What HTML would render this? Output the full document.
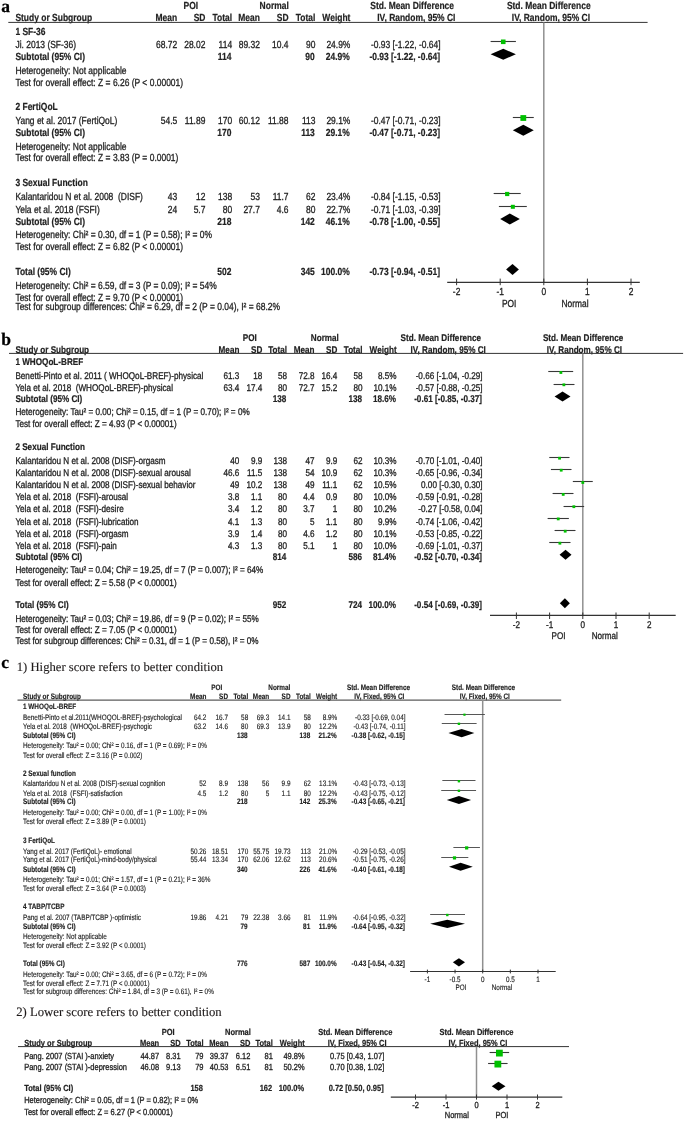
<!DOCTYPE html>
<html><head><meta charset="utf-8"><title>Forest plots</title>
<style>
html,body{margin:0;padding:0;background:#fff;width:685px;height:1121px;overflow:hidden}
svg{display:block;will-change:transform}
text{font-family:"Liberation Sans",sans-serif;fill:#222;white-space:pre;stroke:#222;stroke-width:0.3px}
text[font-weight]{stroke-width:0.2px}
svg{text-rendering:geometricPrecision}
</style></head><body>
<svg width="685" height="1121" viewBox="0 0 685 1121">
<rect width="685" height="1121" fill="#fff"/>
<text x="1.20" y="11.80" font-size="17.5" font-weight="bold" style='font-family:"Liberation Serif", serif;fill:#000;stroke:#000;stroke-width:0.25px;'>a</text>
<text x="1.20" y="344.80" font-size="17.5" font-weight="bold" style='font-family:"Liberation Serif", serif;fill:#000;stroke:#000;stroke-width:0.25px;'>b</text>
<text x="1.20" y="667.60" font-size="17.5" font-weight="bold" style='font-family:"Liberation Serif", serif;fill:#000;stroke:#000;stroke-width:0.25px;'>c</text>
<text x="16.80" y="671.20" font-size="12.65" style='font-family:"Liberation Serif", serif;fill:#1e1a1a;stroke:#1e1a1a;stroke-width:0.12px;'>1) Higher score refers to better condition</text>
<text x="16.20" y="1016.30" font-size="12.72" style='font-family:"Liberation Serif", serif;fill:#1e1a1a;stroke:#1e1a1a;stroke-width:0.12px;'>2) Lower score refers to better condition</text>
<text transform="translate(183.60,9.20) scale(0.8197,1)" font-size="10.333" font-weight="bold">POI</text>
<text transform="translate(259.60,9.20) scale(0.8197,1)" font-size="10.333" font-weight="bold">Normal</text>
<text transform="translate(370.30,9.20) scale(0.8197,1)" font-size="10.333" font-weight="bold">Std. Mean Difference</text>
<text transform="translate(506.90,9.20) scale(0.8197,1)" font-size="10.333" font-weight="bold">Std. Mean Difference</text>
<text transform="translate(15.40,21.40) scale(0.8197,1)" font-size="10.333" font-weight="bold">Study or Subgroup</text>
<text transform="translate(177.20,21.40) scale(0.8197,1)" font-size="10.333" font-weight="bold" text-anchor="end">Mean</text>
<text transform="translate(205.40,21.40) scale(0.8197,1)" font-size="10.333" font-weight="bold" text-anchor="end">SD</text>
<text transform="translate(232.10,21.40) scale(0.8197,1)" font-size="10.333" font-weight="bold" text-anchor="end">Total</text>
<text transform="translate(259.90,21.40) scale(0.8197,1)" font-size="10.333" font-weight="bold" text-anchor="end">Mean</text>
<text transform="translate(288.50,21.40) scale(0.8197,1)" font-size="10.333" font-weight="bold" text-anchor="end">SD</text>
<text transform="translate(315.40,21.40) scale(0.8197,1)" font-size="10.333" font-weight="bold" text-anchor="end">Total</text>
<text transform="translate(350.40,21.40) scale(0.8197,1)" font-size="10.333" font-weight="bold" text-anchor="end">Weight</text>
<text transform="translate(377.20,21.40) scale(0.8197,1)" font-size="10.333" font-weight="bold">IV, Random, 95% CI</text>
<text transform="translate(511.80,21.40) scale(0.8197,1)" font-size="10.333" font-weight="bold">IV, Random, 95% CI</text>
<line x1="8.30" y1="22.40" x2="647.60" y2="22.40" stroke="#333" stroke-width="1"/>
<line x1="543.80" y1="22.40" x2="543.80" y2="282.40" stroke="#909090" stroke-width="1.5"/>
<text transform="translate(15.40,34.50) scale(0.8197,1)" font-size="10.333" font-weight="bold">1 SF-36</text>
<text transform="translate(15.40,47.80) scale(0.8197,1)" font-size="10.333">Ji. 2013 (SF-36)</text>
<text transform="translate(177.20,47.80) scale(0.8197,1)" font-size="10.333" text-anchor="end">68.72</text>
<text transform="translate(205.40,47.80) scale(0.8197,1)" font-size="10.333" text-anchor="end">28.02</text>
<text transform="translate(232.10,47.80) scale(0.8197,1)" font-size="10.333" text-anchor="end">114</text>
<text transform="translate(259.90,47.80) scale(0.8197,1)" font-size="10.333" text-anchor="end">89.32</text>
<text transform="translate(288.50,47.80) scale(0.8197,1)" font-size="10.333" text-anchor="end">10.4</text>
<text transform="translate(315.40,47.80) scale(0.8197,1)" font-size="10.333" text-anchor="end">90</text>
<text transform="translate(350.40,47.80) scale(0.8197,1)" font-size="10.333" text-anchor="end">24.9%</text>
<text transform="translate(440.60,47.80) scale(0.8197,1)" font-size="10.333" text-anchor="end">-0.93 [-1.22, -0.64]</text>
<line x1="490.61" y1="41.50" x2="515.90" y2="41.50" stroke="#383838" stroke-width="1.1"/>
<rect x="500.95" y="39.50" width="4.60" height="4.60" fill="#00c000"/>
<text transform="translate(15.40,59.70) scale(0.8197,1)" font-size="10.333" font-weight="bold">Subtotal (95% CI)</text>
<text transform="translate(231.50,59.70) scale(0.8197,1)" font-size="10.333" font-weight="bold" text-anchor="end">114</text>
<text transform="translate(314.80,59.70) scale(0.8197,1)" font-size="10.333" font-weight="bold" text-anchor="end">90</text>
<text transform="translate(349.80,59.70) scale(0.8197,1)" font-size="10.333" font-weight="bold" text-anchor="end">24.9%</text>
<text transform="translate(440.00,59.70) scale(0.8197,1)" font-size="10.333" font-weight="bold" text-anchor="end">-0.93 [-1.22, -0.64]</text>
<polygon points="490.61,54.20 503.25,48.70 515.90,54.20 503.25,59.70" fill="#000"/>
<text transform="translate(15.40,74.10) scale(0.8197,1)" font-size="10.333">Heterogeneity: Not applicable</text>
<text transform="translate(15.40,85.90) scale(0.8197,1)" font-size="10.333">Test for overall effect: Z = 6.26 (P &lt; 0.00001)</text>
<text transform="translate(15.40,110.30) scale(0.8197,1)" font-size="10.333" font-weight="bold">2 FertiQoL</text>
<text transform="translate(15.40,124.00) scale(0.8197,1)" font-size="10.333">Yang et al. 2017 (FertiQoL)</text>
<text transform="translate(177.20,124.00) scale(0.8197,1)" font-size="10.333" text-anchor="end">54.5</text>
<text transform="translate(205.40,124.00) scale(0.8197,1)" font-size="10.333" text-anchor="end">11.89</text>
<text transform="translate(232.10,124.00) scale(0.8197,1)" font-size="10.333" text-anchor="end">170</text>
<text transform="translate(259.90,124.00) scale(0.8197,1)" font-size="10.333" text-anchor="end">60.12</text>
<text transform="translate(288.50,124.00) scale(0.8197,1)" font-size="10.333" text-anchor="end">11.88</text>
<text transform="translate(315.40,124.00) scale(0.8197,1)" font-size="10.333" text-anchor="end">113</text>
<text transform="translate(350.40,124.00) scale(0.8197,1)" font-size="10.333" text-anchor="end">29.1%</text>
<text transform="translate(440.60,124.00) scale(0.8197,1)" font-size="10.333" text-anchor="end">-0.47 [-0.71, -0.23]</text>
<line x1="512.84" y1="117.50" x2="533.77" y2="117.50" stroke="#383838" stroke-width="1.1"/>
<rect x="520.41" y="115.10" width="5.80" height="5.80" fill="#00c000"/>
<text transform="translate(15.40,135.90) scale(0.8197,1)" font-size="10.333" font-weight="bold">Subtotal (95% CI)</text>
<text transform="translate(231.50,135.90) scale(0.8197,1)" font-size="10.333" font-weight="bold" text-anchor="end">170</text>
<text transform="translate(314.80,135.90) scale(0.8197,1)" font-size="10.333" font-weight="bold" text-anchor="end">113</text>
<text transform="translate(349.80,135.90) scale(0.8197,1)" font-size="10.333" font-weight="bold" text-anchor="end">29.1%</text>
<text transform="translate(440.00,135.90) scale(0.8197,1)" font-size="10.333" font-weight="bold" text-anchor="end">-0.47 [-0.71, -0.23]</text>
<polygon points="512.84,130.30 523.31,124.80 533.77,130.30 523.31,135.80" fill="#000"/>
<text transform="translate(15.40,149.60) scale(0.8197,1)" font-size="10.333">Heterogeneity: Not applicable</text>
<text transform="translate(15.40,161.40) scale(0.8197,1)" font-size="10.333">Test for overall effect: Z = 3.83 (P = 0.0001)</text>
<text transform="translate(15.40,186.00) scale(0.8197,1)" font-size="10.333" font-weight="bold">3 Sexual Function</text>
<text transform="translate(15.40,200.00) scale(0.8197,1)" font-size="10.333">Kalantaridou N et al. 2008  (DISF)</text>
<text transform="translate(177.20,200.00) scale(0.8197,1)" font-size="10.333" text-anchor="end">43</text>
<text transform="translate(205.40,200.00) scale(0.8197,1)" font-size="10.333" text-anchor="end">12</text>
<text transform="translate(232.10,200.00) scale(0.8197,1)" font-size="10.333" text-anchor="end">138</text>
<text transform="translate(259.90,200.00) scale(0.8197,1)" font-size="10.333" text-anchor="end">53</text>
<text transform="translate(288.50,200.00) scale(0.8197,1)" font-size="10.333" text-anchor="end">11.7</text>
<text transform="translate(315.40,200.00) scale(0.8197,1)" font-size="10.333" text-anchor="end">62</text>
<text transform="translate(350.40,200.00) scale(0.8197,1)" font-size="10.333" text-anchor="end">23.4%</text>
<text transform="translate(440.60,200.00) scale(0.8197,1)" font-size="10.333" text-anchor="end">-0.84 [-1.15, -0.53]</text>
<line x1="493.66" y1="193.50" x2="520.69" y2="193.50" stroke="#383838" stroke-width="1.1"/>
<rect x="505.08" y="191.90" width="4.20" height="4.20" fill="#00c000"/>
<text transform="translate(15.40,212.60) scale(0.8197,1)" font-size="10.333">Yela et al. 2018 (FSFI)</text>
<text transform="translate(177.20,212.60) scale(0.8197,1)" font-size="10.333" text-anchor="end">24</text>
<text transform="translate(205.40,212.60) scale(0.8197,1)" font-size="10.333" text-anchor="end">5.7</text>
<text transform="translate(232.10,212.60) scale(0.8197,1)" font-size="10.333" text-anchor="end">80</text>
<text transform="translate(259.90,212.60) scale(0.8197,1)" font-size="10.333" text-anchor="end">27.7</text>
<text transform="translate(288.50,212.60) scale(0.8197,1)" font-size="10.333" text-anchor="end">4.6</text>
<text transform="translate(315.40,212.60) scale(0.8197,1)" font-size="10.333" text-anchor="end">80</text>
<text transform="translate(350.40,212.60) scale(0.8197,1)" font-size="10.333" text-anchor="end">22.7%</text>
<text transform="translate(440.60,212.60) scale(0.8197,1)" font-size="10.333" text-anchor="end">-0.71 [-1.03, -0.39]</text>
<line x1="498.89" y1="206.50" x2="526.80" y2="206.50" stroke="#383838" stroke-width="1.1"/>
<rect x="510.84" y="204.80" width="4.00" height="4.00" fill="#00c000"/>
<text transform="translate(15.40,224.50) scale(0.8197,1)" font-size="10.333" font-weight="bold">Subtotal (95% CI)</text>
<text transform="translate(231.50,224.50) scale(0.8197,1)" font-size="10.333" font-weight="bold" text-anchor="end">218</text>
<text transform="translate(314.80,224.50) scale(0.8197,1)" font-size="10.333" font-weight="bold" text-anchor="end">142</text>
<text transform="translate(349.80,224.50) scale(0.8197,1)" font-size="10.333" font-weight="bold" text-anchor="end">46.1%</text>
<text transform="translate(440.00,224.50) scale(0.8197,1)" font-size="10.333" font-weight="bold" text-anchor="end">-0.78 [-1.00, -0.55]</text>
<polygon points="500.20,219.00 509.79,213.50 519.82,219.00 509.79,224.50" fill="#000"/>
<text transform="translate(15.40,237.90) scale(0.8197,1)" font-size="10.333">Heterogeneity: Chi² = 0.30, df = 1 (P = 0.58); I² = 0%</text>
<text transform="translate(15.40,249.90) scale(0.8197,1)" font-size="10.333">Test for overall effect: Z = 6.82 (P &lt; 0.00001)</text>
<text transform="translate(15.40,275.30) scale(0.8197,1)" font-size="10.333" font-weight="bold">Total (95% CI)</text>
<text transform="translate(231.50,275.30) scale(0.8197,1)" font-size="10.333" font-weight="bold" text-anchor="end">502</text>
<text transform="translate(314.80,275.30) scale(0.8197,1)" font-size="10.333" font-weight="bold" text-anchor="end">345</text>
<text transform="translate(349.80,275.30) scale(0.8197,1)" font-size="10.333" font-weight="bold" text-anchor="end">100.0%</text>
<text transform="translate(440.00,275.30) scale(0.8197,1)" font-size="10.333" font-weight="bold" text-anchor="end">-0.73 [-0.94, -0.51]</text>
<polygon points="506.10,269.40 512.50,263.90 518.90,269.40 512.50,274.90" fill="#000"/>
<text transform="translate(15.40,289.30) scale(0.8197,1)" font-size="10.333">Heterogeneity: Chi² = 6.59, df = 3 (P = 0.09); I² = 54%</text>
<text transform="translate(15.40,300.60) scale(0.8197,1)" font-size="10.333">Test for overall effect: Z = 9.70 (P &lt; 0.00001)</text>
<text transform="translate(15.40,310.40) scale(0.8197,1)" font-size="10.333">Test for subgroup differences: Chi² = 6.29, df = 2 (P = 0.04), I² = 68.2%</text>
<line x1="447.20" y1="282.40" x2="639.80" y2="282.40" stroke="#333" stroke-width="1.1"/>
<line x1="456.60" y1="278.60" x2="456.60" y2="285.20" stroke="#333" stroke-width="1"/>
<text transform="translate(456.60,295.00) scale(0.8197,1)" font-size="10.248" text-anchor="middle">-2</text>
<line x1="500.20" y1="278.60" x2="500.20" y2="285.20" stroke="#333" stroke-width="1"/>
<text transform="translate(500.20,295.00) scale(0.8197,1)" font-size="10.248" text-anchor="middle">-1</text>
<line x1="543.80" y1="278.60" x2="543.80" y2="285.20" stroke="#333" stroke-width="1"/>
<text transform="translate(543.80,295.00) scale(0.8197,1)" font-size="10.248" text-anchor="middle">0</text>
<line x1="587.40" y1="278.60" x2="587.40" y2="285.20" stroke="#333" stroke-width="1"/>
<text transform="translate(587.40,295.00) scale(0.8197,1)" font-size="10.248" text-anchor="middle">1</text>
<line x1="631.00" y1="278.60" x2="631.00" y2="285.20" stroke="#333" stroke-width="1"/>
<text transform="translate(631.00,295.00) scale(0.8197,1)" font-size="10.248" text-anchor="middle">2</text>
<text transform="translate(509.10,306.60) scale(0.8197,1)" font-size="10.248" text-anchor="middle">POI</text>
<text transform="translate(575.00,306.60) scale(0.8197,1)" font-size="10.248" text-anchor="middle">Normal</text>
<text transform="translate(242.80,341.00) scale(0.8333,1)" font-size="9.780" font-weight="bold">POI</text>
<text transform="translate(310.80,341.00) scale(0.8333,1)" font-size="9.780" font-weight="bold">Normal</text>
<text transform="translate(400.60,341.00) scale(0.8333,1)" font-size="9.780" font-weight="bold">Std. Mean Difference</text>
<text transform="translate(542.90,341.00) scale(0.8333,1)" font-size="9.780" font-weight="bold">Std. Mean Difference</text>
<text transform="translate(15.40,352.90) scale(0.8333,1)" font-size="9.780" font-weight="bold">Study or Subgroup</text>
<text transform="translate(239.40,352.90) scale(0.8333,1)" font-size="9.780" font-weight="bold" text-anchor="end">Mean</text>
<text transform="translate(262.30,352.90) scale(0.8333,1)" font-size="9.780" font-weight="bold" text-anchor="end">SD</text>
<text transform="translate(287.00,352.90) scale(0.8333,1)" font-size="9.780" font-weight="bold" text-anchor="end">Total</text>
<text transform="translate(314.60,352.90) scale(0.8333,1)" font-size="9.780" font-weight="bold" text-anchor="end">Mean</text>
<text transform="translate(337.40,352.90) scale(0.8333,1)" font-size="9.780" font-weight="bold" text-anchor="end">SD</text>
<text transform="translate(362.60,352.90) scale(0.8333,1)" font-size="9.780" font-weight="bold" text-anchor="end">Total</text>
<text transform="translate(396.60,352.90) scale(0.8333,1)" font-size="9.780" font-weight="bold" text-anchor="end">Weight</text>
<text transform="translate(410.60,352.90) scale(0.8333,1)" font-size="9.780" font-weight="bold">IV, Random, 95% CI</text>
<text transform="translate(546.80,352.90) scale(0.8333,1)" font-size="9.780" font-weight="bold">IV, Random, 95% CI</text>
<line x1="9.00" y1="353.40" x2="683.10" y2="353.40" stroke="#333" stroke-width="1"/>
<line x1="582.80" y1="353.40" x2="582.80" y2="615.40" stroke="#909090" stroke-width="1.5"/>
<text transform="translate(15.40,364.90) scale(0.8333,1)" font-size="9.780" font-weight="bold">1 WHOQoL-BREF</text>
<text transform="translate(15.40,378.60) scale(0.8333,1)" font-size="9.780">Benetti-Pinto et al. 2011 ( WHOQoL-BREF)-physical</text>
<text transform="translate(239.40,378.60) scale(0.8333,1)" font-size="9.780" text-anchor="end">61.3</text>
<text transform="translate(262.30,378.60) scale(0.8333,1)" font-size="9.780" text-anchor="end">18</text>
<text transform="translate(287.00,378.60) scale(0.8333,1)" font-size="9.780" text-anchor="end">58</text>
<text transform="translate(314.60,378.60) scale(0.8333,1)" font-size="9.780" text-anchor="end">72.8</text>
<text transform="translate(337.40,378.60) scale(0.8333,1)" font-size="9.780" text-anchor="end">16.4</text>
<text transform="translate(362.60,378.60) scale(0.8333,1)" font-size="9.780" text-anchor="end">58</text>
<text transform="translate(396.60,378.60) scale(0.8333,1)" font-size="9.780" text-anchor="end">8.5%</text>
<text transform="translate(482.60,378.60) scale(0.8333,1)" font-size="9.780" text-anchor="end">-0.66 [-1.04, -0.29]</text>
<line x1="548.27" y1="371.50" x2="573.17" y2="371.50" stroke="#383838" stroke-width="1.1"/>
<rect x="559.49" y="371.10" width="2.80" height="2.80" fill="#00c000"/>
<text transform="translate(15.40,390.70) scale(0.8333,1)" font-size="9.780">Yela et al. 2018  (WHOQoL-BREF)-physical</text>
<text transform="translate(239.40,390.70) scale(0.8333,1)" font-size="9.780" text-anchor="end">63.4</text>
<text transform="translate(262.30,390.70) scale(0.8333,1)" font-size="9.780" text-anchor="end">17.4</text>
<text transform="translate(287.00,390.70) scale(0.8333,1)" font-size="9.780" text-anchor="end">80</text>
<text transform="translate(314.60,390.70) scale(0.8333,1)" font-size="9.780" text-anchor="end">72.7</text>
<text transform="translate(337.40,390.70) scale(0.8333,1)" font-size="9.780" text-anchor="end">15.2</text>
<text transform="translate(362.60,390.70) scale(0.8333,1)" font-size="9.780" text-anchor="end">80</text>
<text transform="translate(396.60,390.70) scale(0.8333,1)" font-size="9.780" text-anchor="end">10.1%</text>
<text transform="translate(482.60,390.70) scale(0.8333,1)" font-size="9.780" text-anchor="end">-0.57 [-0.88, -0.25]</text>
<line x1="553.58" y1="384.50" x2="574.50" y2="384.50" stroke="#383838" stroke-width="1.1"/>
<rect x="562.48" y="383.40" width="2.80" height="2.80" fill="#00c000"/>
<text transform="translate(15.40,401.80) scale(0.8333,1)" font-size="9.780" font-weight="bold">Subtotal (95% CI)</text>
<text transform="translate(286.40,401.80) scale(0.8333,1)" font-size="9.780" font-weight="bold" text-anchor="end">138</text>
<text transform="translate(362.00,401.80) scale(0.8333,1)" font-size="9.780" font-weight="bold" text-anchor="end">138</text>
<text transform="translate(396.00,401.80) scale(0.8333,1)" font-size="9.780" font-weight="bold" text-anchor="end">18.6%</text>
<text transform="translate(482.00,401.80) scale(0.8333,1)" font-size="9.780" font-weight="bold" text-anchor="end">-0.61 [-0.85, -0.37]</text>
<polygon points="554.58,396.40 562.55,391.40 570.52,396.40 562.55,401.40" fill="#000"/>
<text transform="translate(15.40,415.00) scale(0.8333,1)" font-size="9.780">Heterogeneity: Tau² = 0.00; Chi² = 0.15, df = 1 (P = 0.70); I² = 0%</text>
<text transform="translate(15.40,426.60) scale(0.8333,1)" font-size="9.780">Test for overall effect: Z = 4.93 (P &lt; 0.00001)</text>
<text transform="translate(15.40,450.30) scale(0.8333,1)" font-size="9.780" font-weight="bold">2 Sexual Function</text>
<text transform="translate(15.40,464.20) scale(0.8333,1)" font-size="9.780">Kalantaridou N et al. 2008 (DISF)-orgasm</text>
<text transform="translate(239.40,464.20) scale(0.8333,1)" font-size="9.780" text-anchor="end">40</text>
<text transform="translate(262.30,464.20) scale(0.8333,1)" font-size="9.780" text-anchor="end">9.9</text>
<text transform="translate(287.00,464.20) scale(0.8333,1)" font-size="9.780" text-anchor="end">138</text>
<text transform="translate(314.60,464.20) scale(0.8333,1)" font-size="9.780" text-anchor="end">47</text>
<text transform="translate(337.40,464.20) scale(0.8333,1)" font-size="9.780" text-anchor="end">9.9</text>
<text transform="translate(362.60,464.20) scale(0.8333,1)" font-size="9.780" text-anchor="end">62</text>
<text transform="translate(396.60,464.20) scale(0.8333,1)" font-size="9.780" text-anchor="end">10.3%</text>
<text transform="translate(482.60,464.20) scale(0.8333,1)" font-size="9.780" text-anchor="end">-0.70 [-1.01, -0.40]</text>
<line x1="549.27" y1="457.50" x2="569.52" y2="457.50" stroke="#383838" stroke-width="1.1"/>
<rect x="558.16" y="456.80" width="2.80" height="2.80" fill="#00c000"/>
<text transform="translate(15.40,476.26) scale(0.8333,1)" font-size="9.780">Kalantaridou N et al. 2008 (DISF)-sexual arousal</text>
<text transform="translate(239.40,476.26) scale(0.8333,1)" font-size="9.780" text-anchor="end">46.6</text>
<text transform="translate(262.30,476.26) scale(0.8333,1)" font-size="9.780" text-anchor="end">11.5</text>
<text transform="translate(287.00,476.26) scale(0.8333,1)" font-size="9.780" text-anchor="end">138</text>
<text transform="translate(314.60,476.26) scale(0.8333,1)" font-size="9.780" text-anchor="end">54</text>
<text transform="translate(337.40,476.26) scale(0.8333,1)" font-size="9.780" text-anchor="end">10.9</text>
<text transform="translate(362.60,476.26) scale(0.8333,1)" font-size="9.780" text-anchor="end">62</text>
<text transform="translate(396.60,476.26) scale(0.8333,1)" font-size="9.780" text-anchor="end">10.3%</text>
<text transform="translate(482.60,476.26) scale(0.8333,1)" font-size="9.780" text-anchor="end">-0.65 [-0.96, -0.34]</text>
<line x1="550.93" y1="469.50" x2="571.51" y2="469.50" stroke="#383838" stroke-width="1.1"/>
<rect x="559.82" y="468.80" width="2.80" height="2.80" fill="#00c000"/>
<text transform="translate(15.40,488.32) scale(0.8333,1)" font-size="9.780">Kalantaridou N et al. 2008 (DISF)-sexual behavior</text>
<text transform="translate(239.40,488.32) scale(0.8333,1)" font-size="9.780" text-anchor="end">49</text>
<text transform="translate(262.30,488.32) scale(0.8333,1)" font-size="9.780" text-anchor="end">10.2</text>
<text transform="translate(287.00,488.32) scale(0.8333,1)" font-size="9.780" text-anchor="end">138</text>
<text transform="translate(314.60,488.32) scale(0.8333,1)" font-size="9.780" text-anchor="end">49</text>
<text transform="translate(337.40,488.32) scale(0.8333,1)" font-size="9.780" text-anchor="end">11.1</text>
<text transform="translate(362.60,488.32) scale(0.8333,1)" font-size="9.780" text-anchor="end">62</text>
<text transform="translate(396.60,488.32) scale(0.8333,1)" font-size="9.780" text-anchor="end">10.5%</text>
<text transform="translate(482.60,488.32) scale(0.8333,1)" font-size="9.780" text-anchor="end">0.00 [-0.30, 0.30]</text>
<line x1="572.84" y1="481.50" x2="592.76" y2="481.50" stroke="#383838" stroke-width="1.1"/>
<rect x="581.40" y="481.10" width="2.80" height="2.80" fill="#00c000"/>
<text transform="translate(15.40,500.38) scale(0.8333,1)" font-size="9.780">Yela et al. 2018  (FSFI)-arousal</text>
<text transform="translate(239.40,500.38) scale(0.8333,1)" font-size="9.780" text-anchor="end">3.8</text>
<text transform="translate(262.30,500.38) scale(0.8333,1)" font-size="9.780" text-anchor="end">1.1</text>
<text transform="translate(287.00,500.38) scale(0.8333,1)" font-size="9.780" text-anchor="end">80</text>
<text transform="translate(314.60,500.38) scale(0.8333,1)" font-size="9.780" text-anchor="end">4.4</text>
<text transform="translate(337.40,500.38) scale(0.8333,1)" font-size="9.780" text-anchor="end">0.9</text>
<text transform="translate(362.60,500.38) scale(0.8333,1)" font-size="9.780" text-anchor="end">80</text>
<text transform="translate(396.60,500.38) scale(0.8333,1)" font-size="9.780" text-anchor="end">10.0%</text>
<text transform="translate(482.60,500.38) scale(0.8333,1)" font-size="9.780" text-anchor="end">-0.59 [-0.91, -0.28]</text>
<line x1="552.59" y1="493.50" x2="573.50" y2="493.50" stroke="#383838" stroke-width="1.1"/>
<rect x="561.81" y="493.00" width="2.80" height="2.80" fill="#00c000"/>
<text transform="translate(15.40,512.44) scale(0.8333,1)" font-size="9.780">Yela et al. 2018  (FSFI)-desire</text>
<text transform="translate(239.40,512.44) scale(0.8333,1)" font-size="9.780" text-anchor="end">3.4</text>
<text transform="translate(262.30,512.44) scale(0.8333,1)" font-size="9.780" text-anchor="end">1.2</text>
<text transform="translate(287.00,512.44) scale(0.8333,1)" font-size="9.780" text-anchor="end">80</text>
<text transform="translate(314.60,512.44) scale(0.8333,1)" font-size="9.780" text-anchor="end">3.7</text>
<text transform="translate(337.40,512.44) scale(0.8333,1)" font-size="9.780" text-anchor="end">1</text>
<text transform="translate(362.60,512.44) scale(0.8333,1)" font-size="9.780" text-anchor="end">80</text>
<text transform="translate(396.60,512.44) scale(0.8333,1)" font-size="9.780" text-anchor="end">10.2%</text>
<text transform="translate(482.60,512.44) scale(0.8333,1)" font-size="9.780" text-anchor="end">-0.27 [-0.58, 0.04]</text>
<line x1="563.54" y1="506.50" x2="584.13" y2="506.50" stroke="#383838" stroke-width="1.1"/>
<rect x="572.44" y="505.30" width="2.80" height="2.80" fill="#00c000"/>
<text transform="translate(15.40,524.50) scale(0.8333,1)" font-size="9.780">Yela et al. 2018  (FSFI)-lubrication</text>
<text transform="translate(239.40,524.50) scale(0.8333,1)" font-size="9.780" text-anchor="end">4.1</text>
<text transform="translate(262.30,524.50) scale(0.8333,1)" font-size="9.780" text-anchor="end">1.3</text>
<text transform="translate(287.00,524.50) scale(0.8333,1)" font-size="9.780" text-anchor="end">80</text>
<text transform="translate(314.60,524.50) scale(0.8333,1)" font-size="9.780" text-anchor="end">5</text>
<text transform="translate(337.40,524.50) scale(0.8333,1)" font-size="9.780" text-anchor="end">1.1</text>
<text transform="translate(362.60,524.50) scale(0.8333,1)" font-size="9.780" text-anchor="end">80</text>
<text transform="translate(396.60,524.50) scale(0.8333,1)" font-size="9.780" text-anchor="end">9.9%</text>
<text transform="translate(482.60,524.50) scale(0.8333,1)" font-size="9.780" text-anchor="end">-0.74 [-1.06, -0.42]</text>
<line x1="547.61" y1="518.50" x2="568.86" y2="518.50" stroke="#383838" stroke-width="1.1"/>
<rect x="556.83" y="517.50" width="2.80" height="2.80" fill="#00c000"/>
<text transform="translate(15.40,536.56) scale(0.8333,1)" font-size="9.780">Yela et al. 2018  (FSFI)-orgasm</text>
<text transform="translate(239.40,536.56) scale(0.8333,1)" font-size="9.780" text-anchor="end">3.9</text>
<text transform="translate(262.30,536.56) scale(0.8333,1)" font-size="9.780" text-anchor="end">1.4</text>
<text transform="translate(287.00,536.56) scale(0.8333,1)" font-size="9.780" text-anchor="end">80</text>
<text transform="translate(314.60,536.56) scale(0.8333,1)" font-size="9.780" text-anchor="end">4.6</text>
<text transform="translate(337.40,536.56) scale(0.8333,1)" font-size="9.780" text-anchor="end">1.2</text>
<text transform="translate(362.60,536.56) scale(0.8333,1)" font-size="9.780" text-anchor="end">80</text>
<text transform="translate(396.60,536.56) scale(0.8333,1)" font-size="9.780" text-anchor="end">10.1%</text>
<text transform="translate(482.60,536.56) scale(0.8333,1)" font-size="9.780" text-anchor="end">-0.53 [-0.85, -0.22]</text>
<line x1="554.58" y1="530.50" x2="575.50" y2="530.50" stroke="#383838" stroke-width="1.1"/>
<rect x="563.80" y="529.80" width="2.80" height="2.80" fill="#00c000"/>
<text transform="translate(15.40,548.62) scale(0.8333,1)" font-size="9.780">Yela et al. 2018  (FSFI)-pain</text>
<text transform="translate(239.40,548.62) scale(0.8333,1)" font-size="9.780" text-anchor="end">4.3</text>
<text transform="translate(262.30,548.62) scale(0.8333,1)" font-size="9.780" text-anchor="end">1.3</text>
<text transform="translate(287.00,548.62) scale(0.8333,1)" font-size="9.780" text-anchor="end">80</text>
<text transform="translate(314.60,548.62) scale(0.8333,1)" font-size="9.780" text-anchor="end">5.1</text>
<text transform="translate(337.40,548.62) scale(0.8333,1)" font-size="9.780" text-anchor="end">1</text>
<text transform="translate(362.60,548.62) scale(0.8333,1)" font-size="9.780" text-anchor="end">80</text>
<text transform="translate(396.60,548.62) scale(0.8333,1)" font-size="9.780" text-anchor="end">10.0%</text>
<text transform="translate(482.60,548.62) scale(0.8333,1)" font-size="9.780" text-anchor="end">-0.69 [-1.01, -0.37]</text>
<line x1="549.27" y1="542.50" x2="570.52" y2="542.50" stroke="#383838" stroke-width="1.1"/>
<rect x="558.49" y="541.80" width="2.80" height="2.80" fill="#00c000"/>
<text transform="translate(15.40,560.10) scale(0.8333,1)" font-size="9.780" font-weight="bold">Subtotal (95% CI)</text>
<text transform="translate(286.40,560.10) scale(0.8333,1)" font-size="9.780" font-weight="bold" text-anchor="end">814</text>
<text transform="translate(362.00,560.10) scale(0.8333,1)" font-size="9.780" font-weight="bold" text-anchor="end">586</text>
<text transform="translate(396.00,560.10) scale(0.8333,1)" font-size="9.780" font-weight="bold" text-anchor="end">81.4%</text>
<text transform="translate(482.00,560.10) scale(0.8333,1)" font-size="9.780" font-weight="bold" text-anchor="end">-0.52 [-0.70, -0.34]</text>
<polygon points="559.56,554.70 565.54,549.70 571.51,554.70 565.54,559.70" fill="#000"/>
<text transform="translate(15.40,573.20) scale(0.8333,1)" font-size="9.780">Heterogeneity: Tau² = 0.04; Chi² = 19.25, df = 7 (P = 0.007); I² = 64%</text>
<text transform="translate(15.40,585.60) scale(0.8333,1)" font-size="9.780">Test for overall effect: Z = 5.58 (P &lt; 0.00001)</text>
<text transform="translate(15.40,608.40) scale(0.8333,1)" font-size="9.780" font-weight="bold">Total (95% CI)</text>
<text transform="translate(286.40,608.40) scale(0.8333,1)" font-size="9.780" font-weight="bold" text-anchor="end">952</text>
<text transform="translate(362.00,608.40) scale(0.8333,1)" font-size="9.780" font-weight="bold" text-anchor="end">724</text>
<text transform="translate(396.00,608.40) scale(0.8333,1)" font-size="9.780" font-weight="bold" text-anchor="end">100.0%</text>
<text transform="translate(482.00,608.40) scale(0.8333,1)" font-size="9.780" font-weight="bold" text-anchor="end">-0.54 [-0.69, -0.39]</text>
<polygon points="559.89,603.20 564.87,598.20 569.85,603.20 564.87,608.20" fill="#000"/>
<text transform="translate(15.40,622.40) scale(0.8333,1)" font-size="9.780">Heterogeneity: Tau² = 0.03; Chi² = 19.86, df = 9 (P = 0.02); I² = 55%</text>
<text transform="translate(15.40,632.90) scale(0.8333,1)" font-size="9.780">Test for overall effect: Z = 7.05 (P &lt; 0.00001)</text>
<text transform="translate(15.40,643.70) scale(0.8333,1)" font-size="9.780">Test for subgroup differences: Chi² = 0.31, df = 1 (P = 0.58), I² = 0%</text>
<line x1="490.00" y1="615.40" x2="675.70" y2="615.40" stroke="#333" stroke-width="1.1"/>
<line x1="516.40" y1="612.50" x2="516.40" y2="619.00" stroke="#333" stroke-width="1"/>
<text transform="translate(516.40,627.90) scale(0.8333,1)" font-size="9.720" text-anchor="middle">-2</text>
<line x1="549.60" y1="612.50" x2="549.60" y2="619.00" stroke="#333" stroke-width="1"/>
<text transform="translate(549.60,627.90) scale(0.8333,1)" font-size="9.720" text-anchor="middle">-1</text>
<line x1="582.80" y1="612.50" x2="582.80" y2="619.00" stroke="#333" stroke-width="1"/>
<text transform="translate(582.80,627.90) scale(0.8333,1)" font-size="9.720" text-anchor="middle">0</text>
<line x1="616.00" y1="612.50" x2="616.00" y2="619.00" stroke="#333" stroke-width="1"/>
<text transform="translate(616.00,627.90) scale(0.8333,1)" font-size="9.720" text-anchor="middle">1</text>
<line x1="649.20" y1="612.50" x2="649.20" y2="619.00" stroke="#333" stroke-width="1"/>
<text transform="translate(649.20,627.90) scale(0.8333,1)" font-size="9.720" text-anchor="middle">2</text>
<text transform="translate(558.50,638.90) scale(0.8333,1)" font-size="9.720" text-anchor="middle">POI</text>
<text transform="translate(604.70,638.90) scale(0.8333,1)" font-size="9.720" text-anchor="middle">Normal</text>
<text transform="translate(211.30,689.90) scale(0.8065,1)" font-size="7.936" font-weight="bold" style='stroke-width:0.15px;'>POI</text>
<text transform="translate(268.30,689.90) scale(0.8065,1)" font-size="7.936" font-weight="bold" style='stroke-width:0.15px;'>Normal</text>
<text transform="translate(346.90,689.90) scale(0.8065,1)" font-size="7.936" font-weight="bold" style='stroke-width:0.15px;'>Std. Mean Difference</text>
<text transform="translate(451.80,689.90) scale(0.8065,1)" font-size="7.936" font-weight="bold" style='stroke-width:0.15px;'>Std. Mean Difference</text>
<text transform="translate(23.00,699.00) scale(0.8065,1)" font-size="7.936" font-weight="bold" style='stroke-width:0.15px;'>Study or Subgroup</text>
<text transform="translate(206.40,699.00) scale(0.8065,1)" font-size="7.936" font-weight="bold" text-anchor="end" style='stroke-width:0.15px;'>Mean</text>
<text transform="translate(228.00,699.00) scale(0.8065,1)" font-size="7.936" font-weight="bold" text-anchor="end" style='stroke-width:0.15px;'>SD</text>
<text transform="translate(248.20,699.00) scale(0.8065,1)" font-size="7.936" font-weight="bold" text-anchor="end" style='stroke-width:0.15px;'>Total</text>
<text transform="translate(269.20,699.00) scale(0.8065,1)" font-size="7.936" font-weight="bold" text-anchor="end" style='stroke-width:0.15px;'>Mean</text>
<text transform="translate(290.50,699.00) scale(0.8065,1)" font-size="7.936" font-weight="bold" text-anchor="end" style='stroke-width:0.15px;'>SD</text>
<text transform="translate(310.80,699.00) scale(0.8065,1)" font-size="7.936" font-weight="bold" text-anchor="end" style='stroke-width:0.15px;'>Total</text>
<text transform="translate(337.20,699.00) scale(0.8065,1)" font-size="7.936" font-weight="bold" text-anchor="end" style='stroke-width:0.15px;'>Weight</text>
<text transform="translate(354.20,699.00) scale(0.8065,1)" font-size="7.936" font-weight="bold" style='stroke-width:0.15px;'>IV, Fixed, 95% CI</text>
<text transform="translate(459.70,699.00) scale(0.8065,1)" font-size="7.936" font-weight="bold" style='stroke-width:0.15px;'>IV, Fixed, 95% CI</text>
<line x1="17.50" y1="700.10" x2="561.20" y2="700.10" stroke="#333" stroke-width="1"/>
<line x1="482.70" y1="700.10" x2="482.70" y2="971.50" stroke="#909090" stroke-width="1.5"/>
<text transform="translate(23.00,709.30) scale(0.8065,1)" font-size="7.936" font-weight="bold" style='stroke-width:0.15px;'>1 WHOQoL-BREF</text>
<text transform="translate(23.00,720.30) scale(0.8065,1)" font-size="7.936" style='stroke-width:0.15px;'>Benetti-Pinto et al.2011(WHOQOL-BREF)-psychological</text>
<text transform="translate(206.40,720.30) scale(0.8065,1)" font-size="7.936" text-anchor="end" style='stroke-width:0.15px;'>64.2</text>
<text transform="translate(228.00,720.30) scale(0.8065,1)" font-size="7.936" text-anchor="end" style='stroke-width:0.15px;'>16.7</text>
<text transform="translate(248.20,720.30) scale(0.8065,1)" font-size="7.936" text-anchor="end" style='stroke-width:0.15px;'>58</text>
<text transform="translate(269.20,720.30) scale(0.8065,1)" font-size="7.936" text-anchor="end" style='stroke-width:0.15px;'>69.3</text>
<text transform="translate(290.50,720.30) scale(0.8065,1)" font-size="7.936" text-anchor="end" style='stroke-width:0.15px;'>14.1</text>
<text transform="translate(310.80,720.30) scale(0.8065,1)" font-size="7.936" text-anchor="end" style='stroke-width:0.15px;'>58</text>
<text transform="translate(337.20,720.30) scale(0.8065,1)" font-size="7.936" text-anchor="end" style='stroke-width:0.15px;'>8.9%</text>
<text transform="translate(405.50,720.30) scale(0.8065,1)" font-size="7.936" text-anchor="end" style='stroke-width:0.15px;'>-0.33 [-0.69, 0.04]</text>
<line x1="444.54" y1="714.50" x2="484.91" y2="714.50" stroke="#444" stroke-width="0.9"/>
<rect x="463.35" y="713.60" width="2.20" height="2.20" fill="#00c000"/>
<text transform="translate(23.00,729.10) scale(0.8065,1)" font-size="7.936" style='stroke-width:0.15px;'>Yela et al. 2018  (WHOQoL-BREF)-psychogic</text>
<text transform="translate(206.40,729.10) scale(0.8065,1)" font-size="7.936" text-anchor="end" style='stroke-width:0.15px;'>63.2</text>
<text transform="translate(228.00,729.10) scale(0.8065,1)" font-size="7.936" text-anchor="end" style='stroke-width:0.15px;'>14.6</text>
<text transform="translate(248.20,729.10) scale(0.8065,1)" font-size="7.936" text-anchor="end" style='stroke-width:0.15px;'>80</text>
<text transform="translate(269.20,729.10) scale(0.8065,1)" font-size="7.936" text-anchor="end" style='stroke-width:0.15px;'>69.3</text>
<text transform="translate(290.50,729.10) scale(0.8065,1)" font-size="7.936" text-anchor="end" style='stroke-width:0.15px;'>13.9</text>
<text transform="translate(310.80,729.10) scale(0.8065,1)" font-size="7.936" text-anchor="end" style='stroke-width:0.15px;'>80</text>
<text transform="translate(337.20,729.10) scale(0.8065,1)" font-size="7.936" text-anchor="end" style='stroke-width:0.15px;'>12.2%</text>
<text transform="translate(405.50,729.10) scale(0.8065,1)" font-size="7.936" text-anchor="end" style='stroke-width:0.15px;'>-0.43 [-0.74, -0.11]</text>
<line x1="441.78" y1="723.50" x2="476.62" y2="723.50" stroke="#444" stroke-width="0.9"/>
<rect x="457.72" y="722.60" width="2.40" height="2.40" fill="#00c000"/>
<text transform="translate(23.00,738.20) scale(0.8065,1)" font-size="7.936" font-weight="bold" style='stroke-width:0.15px;'>Subtotal (95% CI)</text>
<text transform="translate(247.60,738.20) scale(0.8065,1)" font-size="7.936" font-weight="bold" text-anchor="end" style='stroke-width:0.15px;'>138</text>
<text transform="translate(310.20,738.20) scale(0.8065,1)" font-size="7.936" font-weight="bold" text-anchor="end" style='stroke-width:0.15px;'>138</text>
<text transform="translate(336.60,738.20) scale(0.8065,1)" font-size="7.936" font-weight="bold" text-anchor="end" style='stroke-width:0.15px;'>21.2%</text>
<text transform="translate(404.90,738.20) scale(0.8065,1)" font-size="7.936" font-weight="bold" text-anchor="end" style='stroke-width:0.15px;'>-0.38 [-0.62, -0.15]</text>
<polygon points="448.41,733.10 461.69,729.00 474.40,733.10 461.69,737.20" fill="#000"/>
<text transform="translate(23.00,747.70) scale(0.8065,1)" font-size="7.936" style='stroke-width:0.15px;'>Heterogeneity: Tau² = 0.00; Chi² = 0.16, df = 1 (P = 0.69); I² = 0%</text>
<text transform="translate(23.00,758.20) scale(0.8065,1)" font-size="7.936" style='stroke-width:0.15px;'>Test for overall effect: Z = 3.16 (P = 0.002)</text>
<text transform="translate(23.00,776.20) scale(0.8065,1)" font-size="7.936" font-weight="bold" style='stroke-width:0.15px;'>2 Sexual function</text>
<text transform="translate(23.00,786.20) scale(0.8065,1)" font-size="7.936" style='stroke-width:0.15px;'>Kalantaridou N et al. 2008 (DISF)-sexual cognition</text>
<text transform="translate(206.40,786.20) scale(0.8065,1)" font-size="7.936" text-anchor="end" style='stroke-width:0.15px;'>52</text>
<text transform="translate(228.00,786.20) scale(0.8065,1)" font-size="7.936" text-anchor="end" style='stroke-width:0.15px;'>8.9</text>
<text transform="translate(248.20,786.20) scale(0.8065,1)" font-size="7.936" text-anchor="end" style='stroke-width:0.15px;'>138</text>
<text transform="translate(269.20,786.20) scale(0.8065,1)" font-size="7.936" text-anchor="end" style='stroke-width:0.15px;'>56</text>
<text transform="translate(290.50,786.20) scale(0.8065,1)" font-size="7.936" text-anchor="end" style='stroke-width:0.15px;'>9.9</text>
<text transform="translate(310.80,786.20) scale(0.8065,1)" font-size="7.936" text-anchor="end" style='stroke-width:0.15px;'>62</text>
<text transform="translate(337.20,786.20) scale(0.8065,1)" font-size="7.936" text-anchor="end" style='stroke-width:0.15px;'>13.1%</text>
<text transform="translate(405.50,786.20) scale(0.8065,1)" font-size="7.936" text-anchor="end" style='stroke-width:0.15px;'>-0.43 [-0.73, -0.13]</text>
<line x1="442.33" y1="780.50" x2="475.51" y2="780.50" stroke="#444" stroke-width="0.9"/>
<rect x="457.72" y="780.00" width="2.40" height="2.40" fill="#00c000"/>
<text transform="translate(23.00,795.50) scale(0.8065,1)" font-size="7.936" style='stroke-width:0.15px;'>Yela et al. 2018  (FSFI)-satisfaction</text>
<text transform="translate(206.40,795.50) scale(0.8065,1)" font-size="7.936" text-anchor="end" style='stroke-width:0.15px;'>4.5</text>
<text transform="translate(228.00,795.50) scale(0.8065,1)" font-size="7.936" text-anchor="end" style='stroke-width:0.15px;'>1.2</text>
<text transform="translate(248.20,795.50) scale(0.8065,1)" font-size="7.936" text-anchor="end" style='stroke-width:0.15px;'>80</text>
<text transform="translate(269.20,795.50) scale(0.8065,1)" font-size="7.936" text-anchor="end" style='stroke-width:0.15px;'>5</text>
<text transform="translate(290.50,795.50) scale(0.8065,1)" font-size="7.936" text-anchor="end" style='stroke-width:0.15px;'>1.1</text>
<text transform="translate(310.80,795.50) scale(0.8065,1)" font-size="7.936" text-anchor="end" style='stroke-width:0.15px;'>80</text>
<text transform="translate(337.20,795.50) scale(0.8065,1)" font-size="7.936" text-anchor="end" style='stroke-width:0.15px;'>12.2%</text>
<text transform="translate(405.50,795.50) scale(0.8065,1)" font-size="7.936" text-anchor="end" style='stroke-width:0.15px;'>-0.43 [-0.75, -0.12]</text>
<line x1="441.23" y1="790.50" x2="476.06" y2="790.50" stroke="#444" stroke-width="0.9"/>
<rect x="457.72" y="789.60" width="2.40" height="2.40" fill="#00c000"/>
<text transform="translate(23.00,804.20) scale(0.8065,1)" font-size="7.936" font-weight="bold" style='stroke-width:0.15px;'>Subtotal (95% CI)</text>
<text transform="translate(247.60,804.20) scale(0.8065,1)" font-size="7.936" font-weight="bold" text-anchor="end" style='stroke-width:0.15px;'>218</text>
<text transform="translate(310.20,804.20) scale(0.8065,1)" font-size="7.936" font-weight="bold" text-anchor="end" style='stroke-width:0.15px;'>142</text>
<text transform="translate(336.60,804.20) scale(0.8065,1)" font-size="7.936" font-weight="bold" text-anchor="end" style='stroke-width:0.15px;'>25.3%</text>
<text transform="translate(404.90,804.20) scale(0.8065,1)" font-size="7.936" font-weight="bold" text-anchor="end" style='stroke-width:0.15px;'>-0.43 [-0.65, -0.21]</text>
<polygon points="446.75,800.00 458.92,795.90 471.09,800.00 458.92,804.10" fill="#000"/>
<text transform="translate(23.00,815.40) scale(0.8065,1)" font-size="7.936" style='stroke-width:0.15px;'>Heterogeneity: Tau² = 0.00; Chi² = 0.00, df = 1 (P = 1.00); I² = 0%</text>
<text transform="translate(23.00,824.30) scale(0.8065,1)" font-size="7.936" style='stroke-width:0.15px;'>Test for overall effect: Z = 3.89 (P = 0.0001)</text>
<text transform="translate(23.00,842.60) scale(0.8065,1)" font-size="7.936" font-weight="bold" style='stroke-width:0.15px;'>3 FertiQoL</text>
<text transform="translate(23.00,853.50) scale(0.8065,1)" font-size="7.936" style='stroke-width:0.15px;'>Yang et al. 2017 (FertiQoL)- emotional</text>
<text transform="translate(206.40,853.50) scale(0.8065,1)" font-size="7.936" text-anchor="end" style='stroke-width:0.15px;'>50.26</text>
<text transform="translate(228.00,853.50) scale(0.8065,1)" font-size="7.936" text-anchor="end" style='stroke-width:0.15px;'>18.51</text>
<text transform="translate(248.20,853.50) scale(0.8065,1)" font-size="7.936" text-anchor="end" style='stroke-width:0.15px;'>170</text>
<text transform="translate(269.20,853.50) scale(0.8065,1)" font-size="7.936" text-anchor="end" style='stroke-width:0.15px;'>55.75</text>
<text transform="translate(290.50,853.50) scale(0.8065,1)" font-size="7.936" text-anchor="end" style='stroke-width:0.15px;'>19.73</text>
<text transform="translate(310.80,853.50) scale(0.8065,1)" font-size="7.936" text-anchor="end" style='stroke-width:0.15px;'>113</text>
<text transform="translate(337.20,853.50) scale(0.8065,1)" font-size="7.936" text-anchor="end" style='stroke-width:0.15px;'>21.0%</text>
<text transform="translate(405.50,853.50) scale(0.8065,1)" font-size="7.936" text-anchor="end" style='stroke-width:0.15px;'>-0.29 [-0.53, -0.05]</text>
<line x1="453.39" y1="847.50" x2="479.94" y2="847.50" stroke="#444" stroke-width="0.9"/>
<rect x="465.06" y="846.30" width="3.20" height="3.20" fill="#00c000"/>
<text transform="translate(23.00,862.40) scale(0.8065,1)" font-size="7.936" style='stroke-width:0.15px;'>Yang et al. 2017 (FertiQoL)-mind-body/physical</text>
<text transform="translate(206.40,862.40) scale(0.8065,1)" font-size="7.936" text-anchor="end" style='stroke-width:0.15px;'>55.44</text>
<text transform="translate(228.00,862.40) scale(0.8065,1)" font-size="7.936" text-anchor="end" style='stroke-width:0.15px;'>13.34</text>
<text transform="translate(248.20,862.40) scale(0.8065,1)" font-size="7.936" text-anchor="end" style='stroke-width:0.15px;'>170</text>
<text transform="translate(269.20,862.40) scale(0.8065,1)" font-size="7.936" text-anchor="end" style='stroke-width:0.15px;'>62.06</text>
<text transform="translate(290.50,862.40) scale(0.8065,1)" font-size="7.936" text-anchor="end" style='stroke-width:0.15px;'>12.62</text>
<text transform="translate(310.80,862.40) scale(0.8065,1)" font-size="7.936" text-anchor="end" style='stroke-width:0.15px;'>113</text>
<text transform="translate(337.20,862.40) scale(0.8065,1)" font-size="7.936" text-anchor="end" style='stroke-width:0.15px;'>20.6%</text>
<text transform="translate(405.50,862.40) scale(0.8065,1)" font-size="7.936" text-anchor="end" style='stroke-width:0.15px;'>-0.51 [-0.75, -0.26]</text>
<line x1="441.23" y1="857.50" x2="468.32" y2="857.50" stroke="#444" stroke-width="0.9"/>
<rect x="452.90" y="856.30" width="3.20" height="3.20" fill="#00c000"/>
<text transform="translate(23.00,871.50) scale(0.8065,1)" font-size="7.936" font-weight="bold" style='stroke-width:0.15px;'>Subtotal (95% CI)</text>
<text transform="translate(247.60,871.50) scale(0.8065,1)" font-size="7.936" font-weight="bold" text-anchor="end" style='stroke-width:0.15px;'>340</text>
<text transform="translate(310.20,871.50) scale(0.8065,1)" font-size="7.936" font-weight="bold" text-anchor="end" style='stroke-width:0.15px;'>226</text>
<text transform="translate(336.60,871.50) scale(0.8065,1)" font-size="7.936" font-weight="bold" text-anchor="end" style='stroke-width:0.15px;'>41.6%</text>
<text transform="translate(404.90,871.50) scale(0.8065,1)" font-size="7.936" font-weight="bold" text-anchor="end" style='stroke-width:0.15px;'>-0.40 [-0.61, -0.18]</text>
<polygon points="448.97,866.80 460.58,862.80 472.75,866.80 460.58,870.80" fill="#000"/>
<text transform="translate(23.00,881.50) scale(0.8065,1)" font-size="7.936" style='stroke-width:0.15px;'>Heterogeneity: Tau² = 0.01; Chi² = 1.57, df = 1 (P = 0.21); I² = 36%</text>
<text transform="translate(23.00,891.40) scale(0.8065,1)" font-size="7.936" style='stroke-width:0.15px;'>Test for overall effect: Z = 3.64 (P = 0.0003)</text>
<text transform="translate(23.00,909.00) scale(0.8065,1)" font-size="7.936" font-weight="bold" style='stroke-width:0.15px;'>4 TABP/TCBP</text>
<text transform="translate(23.00,919.70) scale(0.8065,1)" font-size="7.936" style='stroke-width:0.15px;'>Pang et al. 2007 (TABP/TCBP )-optimistic</text>
<text transform="translate(206.40,919.70) scale(0.8065,1)" font-size="7.936" text-anchor="end" style='stroke-width:0.15px;'>19.86</text>
<text transform="translate(228.00,919.70) scale(0.8065,1)" font-size="7.936" text-anchor="end" style='stroke-width:0.15px;'>4.21</text>
<text transform="translate(248.20,919.70) scale(0.8065,1)" font-size="7.936" text-anchor="end" style='stroke-width:0.15px;'>79</text>
<text transform="translate(269.20,919.70) scale(0.8065,1)" font-size="7.936" text-anchor="end" style='stroke-width:0.15px;'>22.38</text>
<text transform="translate(290.50,919.70) scale(0.8065,1)" font-size="7.936" text-anchor="end" style='stroke-width:0.15px;'>3.66</text>
<text transform="translate(310.80,919.70) scale(0.8065,1)" font-size="7.936" text-anchor="end" style='stroke-width:0.15px;'>81</text>
<text transform="translate(337.20,919.70) scale(0.8065,1)" font-size="7.936" text-anchor="end" style='stroke-width:0.15px;'>11.9%</text>
<text transform="translate(405.50,919.70) scale(0.8065,1)" font-size="7.936" text-anchor="end" style='stroke-width:0.15px;'>-0.64 [-0.95, -0.32]</text>
<line x1="430.16" y1="914.50" x2="465.00" y2="914.50" stroke="#444" stroke-width="0.9"/>
<rect x="446.11" y="913.80" width="2.40" height="2.40" fill="#00c000"/>
<text transform="translate(23.00,928.60) scale(0.8065,1)" font-size="7.936" font-weight="bold" style='stroke-width:0.15px;'>Subtotal (95% CI)</text>
<text transform="translate(247.60,928.60) scale(0.8065,1)" font-size="7.936" font-weight="bold" text-anchor="end" style='stroke-width:0.15px;'>79</text>
<text transform="translate(310.20,928.60) scale(0.8065,1)" font-size="7.936" font-weight="bold" text-anchor="end" style='stroke-width:0.15px;'>81</text>
<text transform="translate(336.60,928.60) scale(0.8065,1)" font-size="7.936" font-weight="bold" text-anchor="end" style='stroke-width:0.15px;'>11.9%</text>
<text transform="translate(404.90,928.60) scale(0.8065,1)" font-size="7.936" font-weight="bold" text-anchor="end" style='stroke-width:0.15px;'>-0.64 [-0.95, -0.32]</text>
<polygon points="430.16,923.80 447.31,919.70 465.00,923.80 447.31,927.90" fill="#000"/>
<text transform="translate(23.00,938.80) scale(0.8065,1)" font-size="7.936" style='stroke-width:0.15px;'>Heterogeneity: Not applicable</text>
<text transform="translate(23.00,947.70) scale(0.8065,1)" font-size="7.936" style='stroke-width:0.15px;'>Test for overall effect: Z = 3.92 (P &lt; 0.0001)</text>
<text transform="translate(23.00,965.90) scale(0.8065,1)" font-size="7.936" font-weight="bold" style='stroke-width:0.15px;'>Total (95% CI)</text>
<text transform="translate(247.60,965.90) scale(0.8065,1)" font-size="7.936" font-weight="bold" text-anchor="end" style='stroke-width:0.15px;'>776</text>
<text transform="translate(310.20,965.90) scale(0.8065,1)" font-size="7.936" font-weight="bold" text-anchor="end" style='stroke-width:0.15px;'>587</text>
<text transform="translate(336.60,965.90) scale(0.8065,1)" font-size="7.936" font-weight="bold" text-anchor="end" style='stroke-width:0.15px;'>100.0%</text>
<text transform="translate(404.90,965.90) scale(0.8065,1)" font-size="7.936" font-weight="bold" text-anchor="end" style='stroke-width:0.15px;'>-0.43 [-0.54, -0.32]</text>
<polygon points="452.84,962.30 458.92,958.20 465.00,962.30 458.92,966.40" fill="#000"/>
<text transform="translate(23.00,976.90) scale(0.8065,1)" font-size="7.936" style='stroke-width:0.15px;'>Heterogeneity: Tau² = 0.00; Chi² = 3.65, df = 6 (P = 0.72); I² = 0%</text>
<text transform="translate(23.00,985.90) scale(0.8065,1)" font-size="7.936" style='stroke-width:0.15px;'>Test for overall effect: Z = 7.71 (P &lt; 0.00001)</text>
<text transform="translate(23.00,994.40) scale(0.8065,1)" font-size="7.936" style='stroke-width:0.15px;'>Test for subgroup differences: Chi² = 1.84, df = 3 (P = 0.61), I² = 0%</text>
<line x1="410.10" y1="971.50" x2="555.70" y2="971.50" stroke="#333" stroke-width="1.1"/>
<line x1="427.40" y1="969.60" x2="427.40" y2="973.40" stroke="#333" stroke-width="1"/>
<text transform="translate(427.40,981.50) scale(0.8065,1)" font-size="7.874" text-anchor="middle" style='stroke-width:0.15px;'>-1</text>
<line x1="455.05" y1="969.60" x2="455.05" y2="973.40" stroke="#333" stroke-width="1"/>
<text transform="translate(455.05,981.50) scale(0.8065,1)" font-size="7.874" text-anchor="middle" style='stroke-width:0.15px;'>-0.5</text>
<line x1="482.70" y1="969.60" x2="482.70" y2="973.40" stroke="#333" stroke-width="1"/>
<text transform="translate(482.70,981.50) scale(0.8065,1)" font-size="7.874" text-anchor="middle" style='stroke-width:0.15px;'>0</text>
<line x1="510.35" y1="969.60" x2="510.35" y2="973.40" stroke="#333" stroke-width="1"/>
<text transform="translate(510.35,981.50) scale(0.8065,1)" font-size="7.874" text-anchor="middle" style='stroke-width:0.15px;'>0.5</text>
<line x1="538.00" y1="969.60" x2="538.00" y2="973.40" stroke="#333" stroke-width="1"/>
<text transform="translate(538.00,981.50) scale(0.8065,1)" font-size="7.874" text-anchor="middle" style='stroke-width:0.15px;'>1</text>
<text transform="translate(461.00,989.80) scale(0.8065,1)" font-size="7.874" text-anchor="middle" style='stroke-width:0.15px;'>POI</text>
<text transform="translate(502.00,989.80) scale(0.8065,1)" font-size="7.874" text-anchor="middle" style='stroke-width:0.15px;'>Normal</text>
<text transform="translate(161.70,1034.90) scale(0.8475,1)" font-size="8.850" font-weight="bold">POI</text>
<text transform="translate(225.00,1034.90) scale(0.8475,1)" font-size="8.850" font-weight="bold">Normal</text>
<text transform="translate(318.20,1034.90) scale(0.8475,1)" font-size="8.850" font-weight="bold">Std. Mean Difference</text>
<text transform="translate(439.40,1034.90) scale(0.8475,1)" font-size="8.850" font-weight="bold">Std. Mean Difference</text>
<text transform="translate(24.20,1046.40) scale(0.8475,1)" font-size="8.850" font-weight="bold">Study or Subgroup</text>
<text transform="translate(159.20,1046.40) scale(0.8475,1)" font-size="8.850" font-weight="bold" text-anchor="end">Mean</text>
<text transform="translate(180.70,1046.40) scale(0.8475,1)" font-size="8.850" font-weight="bold" text-anchor="end">SD</text>
<text transform="translate(203.50,1046.40) scale(0.8475,1)" font-size="8.850" font-weight="bold" text-anchor="end">Total</text>
<text transform="translate(228.50,1046.40) scale(0.8475,1)" font-size="8.850" font-weight="bold" text-anchor="end">Mean</text>
<text transform="translate(250.40,1046.40) scale(0.8475,1)" font-size="8.850" font-weight="bold" text-anchor="end">SD</text>
<text transform="translate(272.80,1046.40) scale(0.8475,1)" font-size="8.850" font-weight="bold" text-anchor="end">Total</text>
<text transform="translate(304.70,1046.40) scale(0.8475,1)" font-size="8.850" font-weight="bold" text-anchor="end">Weight</text>
<text transform="translate(327.70,1046.40) scale(0.8475,1)" font-size="8.850" font-weight="bold">IV, Fixed, 95% CI</text>
<text transform="translate(448.40,1046.40) scale(0.8475,1)" font-size="8.850" font-weight="bold">IV, Fixed, 95% CI</text>
<line x1="18.00" y1="1046.60" x2="569.00" y2="1046.60" stroke="#333" stroke-width="1"/>
<line x1="476.50" y1="1046.60" x2="476.50" y2="1097.10" stroke="#909090" stroke-width="1.5"/>
<text transform="translate(24.20,1058.50) scale(0.8475,1)" font-size="8.850">Pang. 2007 (STAI )-anxiety</text>
<text transform="translate(159.20,1058.50) scale(0.8475,1)" font-size="8.850" text-anchor="end">44.87</text>
<text transform="translate(180.70,1058.50) scale(0.8475,1)" font-size="8.850" text-anchor="end">8.31</text>
<text transform="translate(203.50,1058.50) scale(0.8475,1)" font-size="8.850" text-anchor="end">79</text>
<text transform="translate(228.50,1058.50) scale(0.8475,1)" font-size="8.850" text-anchor="end">39.37</text>
<text transform="translate(250.40,1058.50) scale(0.8475,1)" font-size="8.850" text-anchor="end">6.12</text>
<text transform="translate(272.80,1058.50) scale(0.8475,1)" font-size="8.850" text-anchor="end">81</text>
<text transform="translate(304.70,1058.50) scale(0.8475,1)" font-size="8.850" text-anchor="end">49.8%</text>
<text transform="translate(384.30,1058.50) scale(0.8475,1)" font-size="8.850" text-anchor="end">0.75 [0.43, 1.07]</text>
<line x1="489.62" y1="1052.50" x2="509.13" y2="1052.50" stroke="#383838" stroke-width="1.1"/>
<rect x="495.98" y="1049.70" width="6.80" height="6.80" fill="#00c000"/>
<text transform="translate(24.20,1070.10) scale(0.8475,1)" font-size="8.850">Pang. 2007 (STAI )-depression</text>
<text transform="translate(159.20,1070.10) scale(0.8475,1)" font-size="8.850" text-anchor="end">46.08</text>
<text transform="translate(180.70,1070.10) scale(0.8475,1)" font-size="8.850" text-anchor="end">9.13</text>
<text transform="translate(203.50,1070.10) scale(0.8475,1)" font-size="8.850" text-anchor="end">79</text>
<text transform="translate(228.50,1070.10) scale(0.8475,1)" font-size="8.850" text-anchor="end">40.53</text>
<text transform="translate(250.40,1070.10) scale(0.8475,1)" font-size="8.850" text-anchor="end">6.51</text>
<text transform="translate(272.80,1070.10) scale(0.8475,1)" font-size="8.850" text-anchor="end">81</text>
<text transform="translate(304.70,1070.10) scale(0.8475,1)" font-size="8.850" text-anchor="end">50.2%</text>
<text transform="translate(384.30,1070.10) scale(0.8475,1)" font-size="8.850" text-anchor="end">0.70 [0.38, 1.02]</text>
<line x1="488.09" y1="1063.50" x2="507.61" y2="1063.50" stroke="#383838" stroke-width="1.1"/>
<rect x="494.45" y="1060.70" width="6.80" height="6.80" fill="#00c000"/>
<text transform="translate(24.20,1091.40) scale(0.8475,1)" font-size="8.850" font-weight="bold">Total (95% CI)</text>
<text transform="translate(202.90,1091.40) scale(0.8475,1)" font-size="8.850" font-weight="bold" text-anchor="end">158</text>
<text transform="translate(272.20,1091.40) scale(0.8475,1)" font-size="8.850" font-weight="bold" text-anchor="end">162</text>
<text transform="translate(304.10,1091.40) scale(0.8475,1)" font-size="8.850" font-weight="bold" text-anchor="end">100.0%</text>
<text transform="translate(383.70,1091.40) scale(0.8475,1)" font-size="8.850" font-weight="bold" text-anchor="end">0.72 [0.50, 0.95]</text>
<polygon points="491.75,1086.20 498.46,1081.70 505.48,1086.20 498.46,1090.70" fill="#000"/>
<text transform="translate(24.20,1103.40) scale(0.8475,1)" font-size="8.850">Heterogeneity: Chi² = 0.05, df = 1 (P = 0.82); I² = 0%</text>
<text transform="translate(24.20,1114.90) scale(0.8475,1)" font-size="8.850">Test for overall effect: Z = 6.27 (P &lt; 0.00001)</text>
<line x1="390.80" y1="1097.10" x2="562.30" y2="1097.10" stroke="#333" stroke-width="1.1"/>
<line x1="415.50" y1="1094.50" x2="415.50" y2="1099.60" stroke="#333" stroke-width="1"/>
<text transform="translate(415.50,1108.30) scale(0.8475,1)" font-size="8.850" text-anchor="middle">-2</text>
<line x1="446.00" y1="1094.50" x2="446.00" y2="1099.60" stroke="#333" stroke-width="1"/>
<text transform="translate(446.00,1108.30) scale(0.8475,1)" font-size="8.850" text-anchor="middle">-1</text>
<line x1="476.50" y1="1094.50" x2="476.50" y2="1099.60" stroke="#333" stroke-width="1"/>
<text transform="translate(476.50,1108.30) scale(0.8475,1)" font-size="8.850" text-anchor="middle">0</text>
<line x1="507.00" y1="1094.50" x2="507.00" y2="1099.60" stroke="#333" stroke-width="1"/>
<text transform="translate(507.00,1108.30) scale(0.8475,1)" font-size="8.850" text-anchor="middle">1</text>
<line x1="537.50" y1="1094.50" x2="537.50" y2="1099.60" stroke="#333" stroke-width="1"/>
<text transform="translate(537.50,1108.30) scale(0.8475,1)" font-size="8.850" text-anchor="middle">2</text>
<text transform="translate(456.80,1118.00) scale(0.8475,1)" font-size="8.850" text-anchor="middle">Normal</text>
<text transform="translate(501.90,1118.00) scale(0.8475,1)" font-size="8.850" text-anchor="middle">POI</text>
</svg>
</body></html>
